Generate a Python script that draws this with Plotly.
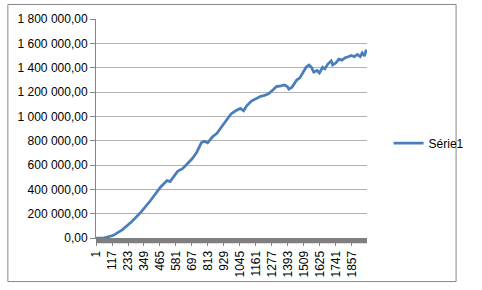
import plotly.graph_objects as go

categories = [1, 55, 123, 191, 259, 327, 395, 436, 470, 516, 538, 561, 595, 629, 663, 697,
              731, 765, 788, 811, 845, 879, 913, 947, 981, 1015, 1049, 1072, 1095, 1129,
              1151, 1174, 1197, 1219, 1253, 1287, 1310, 1344, 1367, 1390, 1401, 1424, 1458,
              1481, 1503, 1526, 1548, 1565, 1582, 1606, 1623, 1646, 1662, 1684, 1708, 1719,
              1742, 1764, 1787, 1810, 1832, 1855, 1876, 1899, 1919, 1934, 1950, 1964]
serie1 = [0, 0, 20000, 67000, 133000, 213000, 306000, 367000, 419000, 472000, 464000,
          498000, 551000, 570000, 609000, 649000, 702000, 782000, 795000, 782000, 830000,
          860000, 914000, 967000, 1020000, 1046000, 1065000, 1046000, 1086000, 1125000,
          1139000, 1152000, 1165000, 1170000, 1186000, 1218000, 1244000, 1250000, 1258000,
          1244000, 1224000, 1240000, 1298000, 1316000, 1364000, 1403000, 1422000, 1403000,
          1364000, 1377000, 1356000, 1403000, 1390000, 1430000, 1456000, 1422000, 1438000,
          1470000, 1462000, 1482000, 1490000, 1501000, 1490000, 1509000, 1490000, 1522000,
          1496000, 1549000]
n_categories = 1968
x_tick_values = [1, 117, 233, 349, 465, 581, 697, 813, 929, 1045, 1161, 1277, 1393,
                 1509, 1625, 1741, 1857]
y_tick_values = [0, 200000, 400000, 600000, 800000, 1000000, 1200000, 1400000,
                 1600000, 1800000]

W, H = 482, 290
ml, mr, mt, mb = 96, 97, 17, 47
pw = W - ml - mr
ph = H - mt - mb

fig = go.Figure()
fig.add_trace(go.Scatter(
    x=categories, y=serie1, mode="lines", name="Série1",
    line=dict(color="#4A7EBB", width=2.75),
))

fig.update_layout(
    width=W, height=H,
    margin=dict(l=ml, r=mr, t=mt, b=mb, pad=0),
    paper_bgcolor="white", plot_bgcolor="white",
    separators=", ",
    font=dict(family="Liberation Sans, Arial, sans-serif", size=12, color="#000000"),
    showlegend=True,
    legend=dict(x=(408 - ml) / pw, xanchor="left", y=(H - mb - 145) / ph, yanchor="middle",
                font=dict(size=12), itemwidth=30, bgcolor="rgba(0,0,0,0)",
                tracegroupgap=0),
    xaxis=dict(
        range=[0.5, n_categories + 0.5], tickmode="array", tickvals=x_tick_values,
        ticktext=[str(v) for v in x_tick_values], tickangle=-90,
        showgrid=False, zeroline=False, showline=True, linecolor="#868686", linewidth=1,
        ticks="outside", ticklen=7, tickcolor="#868686", tickfont=dict(size=12),
        fixedrange=True,
    ),
    yaxis=dict(
        range=[0, 1800000], tickmode="array", tickvals=y_tick_values,
        tickformat=",.2f", showgrid=True, gridcolor="#B0B0B0", gridwidth=1,
        zeroline=False, showline=True, linecolor="#868686", linewidth=1,
        ticks="outside", ticklen=5, tickcolor="#868686", tickfont=dict(size=12),
        fixedrange=True,
    ),
    shapes=[
        # dense category tick band under the x axis
        dict(type="rect", xref="paper", yref="paper", x0=0, x1=1,
             y0=-5.5 / ph, y1=0, fillcolor="#7F7F7F", line=dict(width=0), layer="above"),
        # chart area border
        dict(type="rect", xref="paper", yref="paper",
             x0=(2 - ml) / pw, x1=(W - 2 - ml) / pw,
             y0=(H - mb - (H - 2)) / ph, y1=(H - mb - 2) / ph,
             line=dict(color="#868686", width=1)),
    ],
)

fig.write_html("out.html")
